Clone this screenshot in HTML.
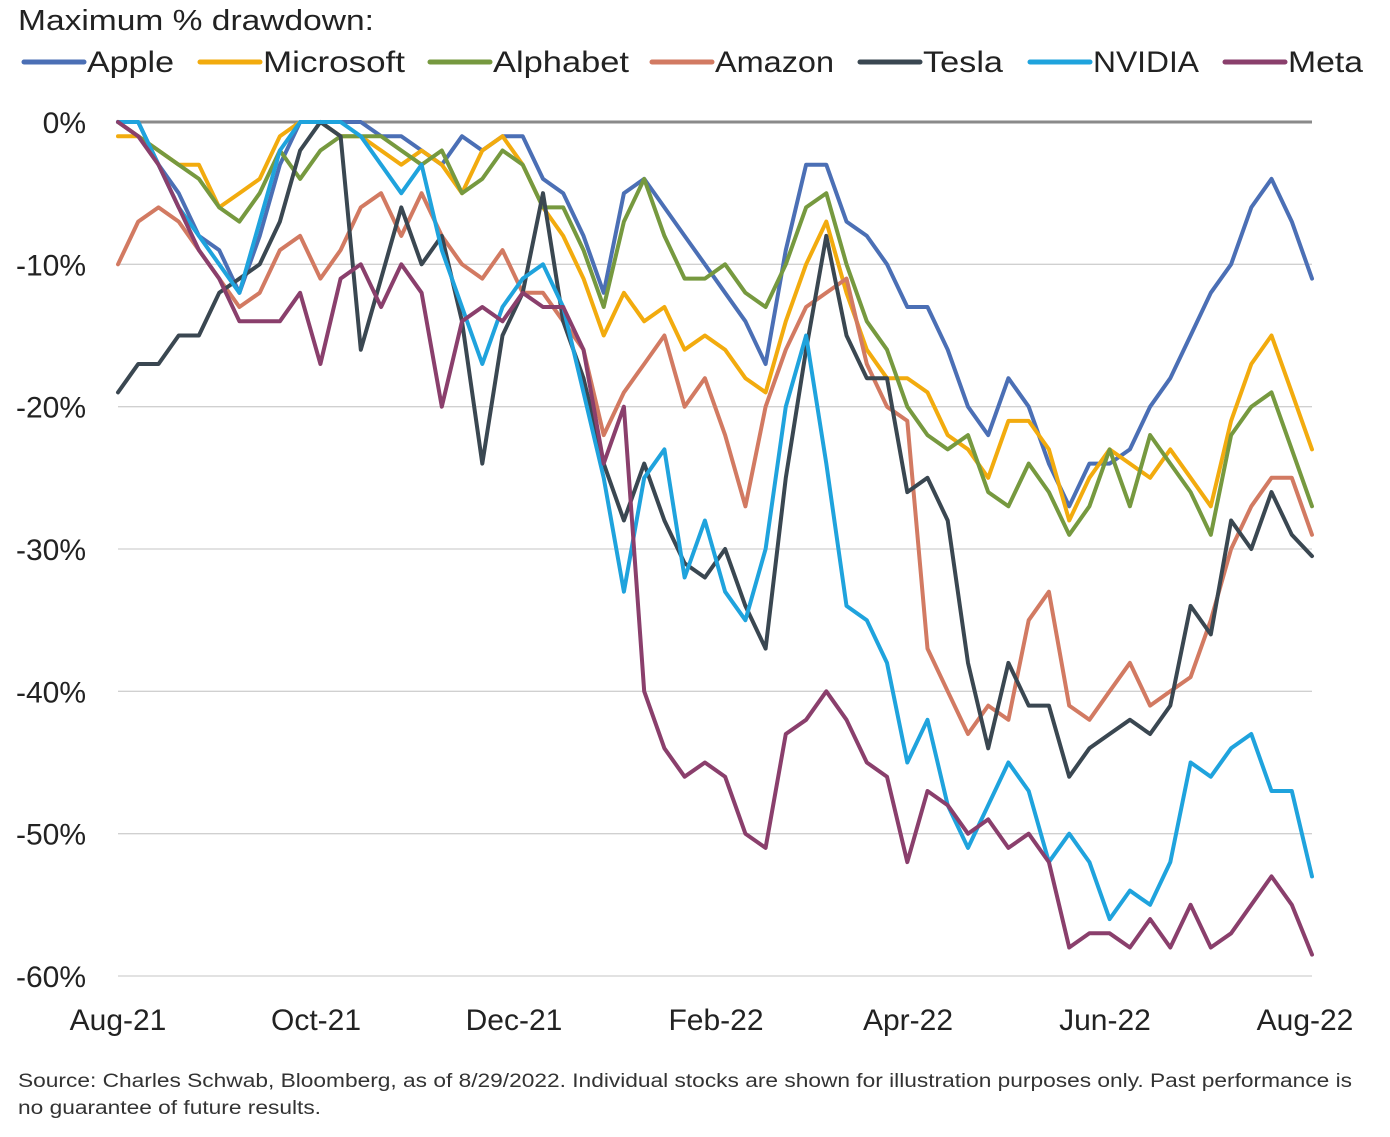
<!DOCTYPE html>
<html><head><meta charset="utf-8"><style>
body{margin:0;background:#fff;font-family:"Liberation Sans",sans-serif;}
svg text{font-family:"Liberation Sans",sans-serif;}
</style></head><body>
<svg id="chart" width="1390" height="1132" xmlns="http://www.w3.org/2000/svg">
<text x="18" y="30" font-size="29" fill="#222" textLength="356" lengthAdjust="spacingAndGlyphs">Maximum % drawdown:</text>
<g id="legend"></g>
<g id="grid"></g>
<g id="yaxis"></g>
<g id="xaxis"></g>
<g id="series"></g>
<text x="18" y="1087" font-size="19" fill="#333" textLength="1334" lengthAdjust="spacingAndGlyphs">Source: Charles Schwab, Bloomberg, as of 8/29/2022. Individual stocks are shown for illustration purposes only. Past performance is</text>
<text x="18" y="1114" font-size="19" fill="#333" textLength="303" lengthAdjust="spacingAndGlyphs">no guarantee of future results.</text>
</svg>
<script>
const seriesNames=["Apple","Microsoft","Alphabet","Amazon","Tesla","NVIDIA","Meta"];
const seriesColors=["#4b6fb5","#f2ab0e","#76993f","#d27a62","#3a4751","#1fa3dd","#8a3f6c"];
const apple=[0,0,-3,-5,-8,-9,-12,-8,-3,0,0,0,0,-1,-1,-2,-3,-1,-2,-1,-1,-4,-5,-8,-12,-5,-4,-6,-8,-10,-12,-14,-17,-9,-3,-3,-7,-8,-10,-13,-13,-16,-20,-22,-18,-20,-24,-27,-24,-24,-23,-20,-18,-15,-12,-10,-6,-4,-7,-11];
const microsoft=[-1,-1,-2,-3,-3,-6,-5,-4,-1,0,0,-1,-1,-2,-3,-2,-3,-5,-2,-1,-3,-6,-8,-11,-15,-12,-14,-13,-16,-15,-16,-18,-19,-14,-10,-7,-12,-16,-18,-18,-19,-22,-23,-25,-21,-21,-23,-28,-25,-23,-24,-25,-23,-25,-27,-21,-17,-15,-19,-23];
const alphabet=[0,-1,-2,-3,-4,-6,-7,-5,-2,-4,-2,-1,-1,-1,-2,-3,-2,-5,-4,-2,-3,-6,-6,-9,-13,-7,-4,-8,-11,-11,-10,-12,-13,-10,-6,-5,-10,-14,-16,-20,-22,-23,-22,-26,-27,-24,-26,-29,-27,-23,-27,-22,-24,-26,-29,-22,-20,-19,-23,-27];
const amazon=[-10,-7,-6,-7,-9,-11,-13,-12,-9,-8,-11,-9,-6,-5,-8,-5,-8,-10,-11,-9,-12,-12,-14,-16,-22,-19,-17,-15,-20,-18,-22,-27,-20,-16,-13,-12,-11,-17,-20,-21,-37,-40,-43,-41,-42,-35,-33,-41,-42,-40,-38,-41,-40,-39,-35,-30,-27,-25,-25,-29];
const tesla=[-19,-17,-17,-15,-15,-12,-11,-10,-7,-2,0,-1,-16,-11,-6,-10,-8,-14,-24,-15,-12,-5,-14,-18,-24,-28,-24,-28,-31,-32,-30,-34,-37,-25,-16,-8,-15,-18,-18,-26,-25,-28,-38,-44,-38,-41,-41,-46,-44,-43,-42,-43,-41,-34,-36,-28,-30,-26,-29,-30.5];
const nvidia=[0,0,-3,-6,-8,-10,-12,-7,-2,0,0,0,-1,-3,-5,-3,-9,-13,-17,-13,-11,-10,-13,-19,-25,-33,-25,-23,-32,-28,-33,-35,-30,-20,-15,-24,-34,-35,-38,-45,-42,-48,-51,-48,-45,-47,-52,-50,-52,-56,-54,-55,-52,-45,-46,-44,-43,-47,-47,-53];
const meta=[0,-1,-3,-6,-9,-11,-14,-14,-14,-12,-17,-11,-10,-13,-10,-12,-20,-14,-13,-14,-12,-13,-13,-16,-24,-20,-40,-44,-46,-45,-46,-50,-51,-43,-42,-40,-42,-45,-46,-52,-47,-48,-50,-49,-51,-50,-52,-58,-57,-57,-58,-56,-58,-55,-58,-57,-55,-53,-55,-58.5];
const yTicks=[0,-10,-20,-30,-40,-50,-60];
const xTickLabels=["Aug-21","Oct-21","Dec-21","Feb-22","Apr-22","Jun-22","Aug-22"];
const allSeries=[apple,microsoft,alphabet,amazon,tesla,nvidia,meta];

const NS="http://www.w3.org/2000/svg";
const X0=118,X1=1312,Y0=122,Y60=976;
const n=apple.length;
function xs(i){return X0+(X1-X0)*i/(n-1);}
function ys(v){return Y0+(Y60-Y0)*(v/-60);}
function mk(tag,attrs,parent){const e=document.createElementNS(NS,tag);for(const k in attrs)e.setAttribute(k,attrs[k]);parent.appendChild(e);return e;}

const grid=document.getElementById('grid'),yax=document.getElementById('yaxis'),xax=document.getElementById('xaxis');
yTicks.forEach(t=>{
  const l=mk('line',{x1:X0,x2:X1,y1:ys(t),y2:ys(t),stroke:t===0?'#8a8a8a':'#d0d0d0','stroke-width':t===0?3:1.3},grid);
  
  
  const tx=mk('text',{x:86,y:ys(t)+11,'text-anchor':'end','font-size':30,fill:'#222'},yax);
  tx.textContent=t+'%';
  
  
});
const xtPos=[118,316,514,716,908,1105,1305];
xTickLabels.forEach((lab,k)=>{
  const tx=mk('text',{x:xtPos[k],y:1030,'text-anchor':'middle','font-size':30,fill:'#222'},xax);
  tx.textContent=lab;
  
  
});
const sg=document.getElementById('series');
allSeries.forEach((arr,s)=>{
  const d=arr.map((v,i)=>(i?'L':'M')+xs(i).toFixed(1)+','+ys(v).toFixed(1)).join('');
  const p=mk('path',{d:d,fill:'none',stroke:seriesColors[s],'stroke-width':4,'stroke-linejoin':'round','stroke-linecap':'round'},sg);
  
  
});
const lg=document.getElementById('legend');
const legX=[24,200,430,652,860,1030,1225];
const legW=[87,142,136,119,80,106,75];
seriesNames.forEach((nm,s)=>{
  const g=mk('g',{},lg);
  
  
  mk('line',{x1:legX[s],x2:legX[s]+60,y1:62,y2:62,stroke:seriesColors[s],'stroke-width':5,'stroke-linecap':'round'},g);
  const t=mk('text',{x:legX[s]+63,y:72,'font-size':30,fill:'#222',textLength:legW[s],lengthAdjust:'spacingAndGlyphs'},g);
  t.textContent=nm;
});
</script>
</body></html>
